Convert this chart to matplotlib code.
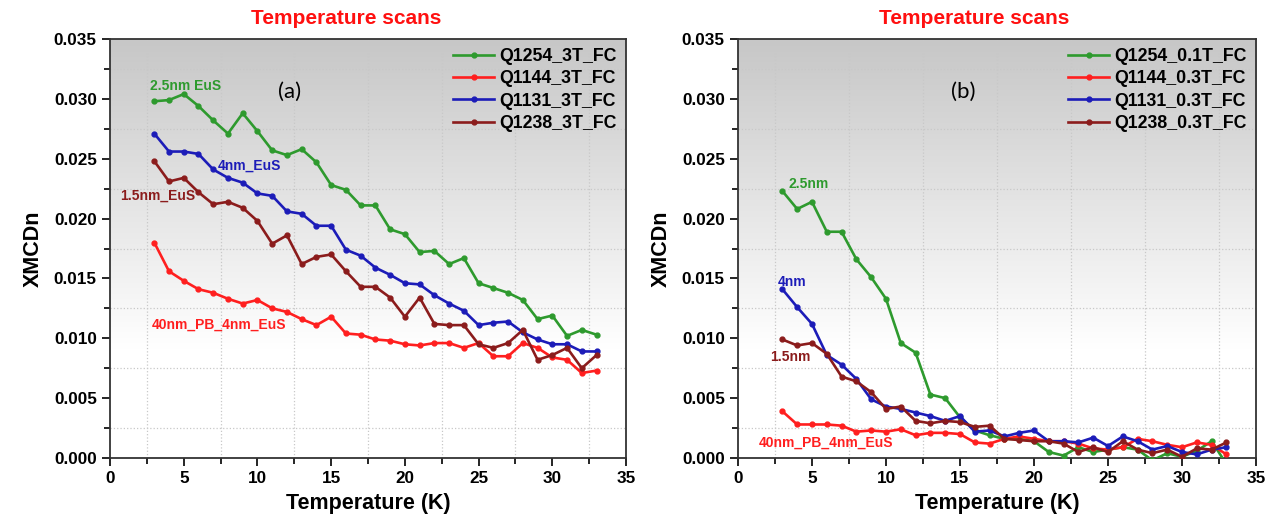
import matplotlib.pyplot as plt
import numpy as np
from matplotlib.ticker import MultipleLocator

plt.rcParams['font.family'] = ['Liberation Sans', 'DejaVu Sans']

temps = list(range(3, 34))

# panel (a): 3T field cooled
q1254_3t = [0.0298, 0.0299, 0.0304, 0.0294, 0.0282, 0.0271, 0.0288, 0.0273, 0.0257, 0.0253,
            0.0258, 0.0247, 0.0228, 0.0224, 0.0211, 0.0211, 0.0191, 0.0187, 0.0172, 0.0173,
            0.0162, 0.0167, 0.0146, 0.0142, 0.0138, 0.0132, 0.0116, 0.0119, 0.0102, 0.0107, 0.0103]
q1144_3t = [0.0180, 0.0156, 0.0148, 0.0141, 0.0138, 0.0133, 0.0129, 0.0132, 0.0125, 0.0122,
            0.0116, 0.0111, 0.0118, 0.0104, 0.0103, 0.0099, 0.0098, 0.0095, 0.0094, 0.0096,
            0.0096, 0.0092, 0.0096, 0.0085, 0.0085, 0.0096, 0.0092, 0.0084, 0.0082, 0.0071, 0.0073]
q1131_3t = [0.0271, 0.0256, 0.0256, 0.0254, 0.0241, 0.0234, 0.0230, 0.0221, 0.0219, 0.0206,
            0.0204, 0.0194, 0.0194, 0.0174, 0.0169, 0.0159, 0.0153, 0.0146, 0.0145, 0.0136,
            0.0129, 0.0123, 0.0111, 0.0113, 0.0114, 0.0105, 0.0099, 0.0095, 0.0095, 0.0089, 0.0089]
q1238_3t = [0.0248, 0.0231, 0.0234, 0.0222, 0.0212, 0.0214, 0.0209, 0.0198, 0.0179, 0.0186,
            0.0162, 0.0168, 0.0170, 0.0156, 0.0143, 0.0143, 0.0134, 0.0118, 0.0134, 0.0112,
            0.0111, 0.0111, 0.0095, 0.0092, 0.0096, 0.0107, 0.0082, 0.0086, 0.0092, 0.0075, 0.0086]

# panel (b): low field cooled
q1254_01t = [0.0223, 0.0208, 0.0214, 0.0189, 0.0189, 0.0166, 0.0151, 0.0133, 0.0096, 0.0088,
             0.0053, 0.0050, 0.0034, 0.0023, 0.0019, 0.0016, 0.0016, 0.0014, 0.0005, 0.0002,
             0.0009, 0.0005, 0.0007, 0.0009, 0.0007, -0.0002, 0.0004, 0.0001, 0.0006, 0.0014, -0.0005]
q1144_03t = [0.0039, 0.0028, 0.0028, 0.0028, 0.0027, 0.0022, 0.0023, 0.0022, 0.0024, 0.0019,
             0.0021, 0.0021, 0.0020, 0.0013, 0.0012, 0.0016, 0.0018, 0.0016, 0.0014, 0.0014,
             0.0012, 0.0008, 0.0007, 0.0009, 0.0016, 0.0014, 0.0011, 0.0009, 0.0013, 0.0011, 0.0003]
q1131_03t = [0.0141, 0.0126, 0.0112, 0.0086, 0.0078, 0.0066, 0.0049, 0.0043, 0.0041, 0.0038,
             0.0035, 0.0031, 0.0035, 0.0022, 0.0023, 0.0018, 0.0021, 0.0023, 0.0014, 0.0014,
             0.0013, 0.0017, 0.0010, 0.0018, 0.0014, 0.0007, 0.0010, 0.0005, 0.0003, 0.0007, 0.0009]
q1238_03t = [0.0099, 0.0094, 0.0096, 0.0087, 0.0068, 0.0064, 0.0055, 0.0041, 0.0043, 0.0031,
             0.0029, 0.0031, 0.0030, 0.0026, 0.0027, 0.0016, 0.0015, 0.0014, 0.0014, 0.0012,
             0.0005, 0.0009, 0.0005, 0.0014, 0.0007, 0.0004, 0.0007, 0.0001, 0.0008, 0.0007, 0.0013]

GREEN = '#2e9a2e'
RED = '#ff1f1f'
BLUE = '#1c1cb8'
DARKRED = '#8b1c1c'


def setup_axes(ax):
    # grey-to-white background gradient
    grad = np.linspace(0, 1, 256).reshape(-1, 1)
    shade = np.clip(0.78 + 0.22 * grad * 1.35, 0, 1)
    ax.imshow(np.dstack([shade, shade, shade]), extent=[0, 1, 0, 1], transform=ax.transAxes,
              aspect='auto', zorder=0, origin='upper')
    ax.set_xlim(0, 35)
    ax.set_ylim(0, 0.035)
    ax.xaxis.set_major_locator(MultipleLocator(5))
    ax.xaxis.set_minor_locator(MultipleLocator(2.5))
    ax.yaxis.set_major_locator(MultipleLocator(0.005))
    ax.yaxis.set_minor_locator(MultipleLocator(0.0025))
    ax.yaxis.set_major_formatter(plt.FormatStrFormatter('%.3f'))
    ax.grid(which='minor', linestyle=':', color='#c8c8c8', linewidth=0.9)
    ax.tick_params(which='major', direction='out', length=6, width=1.2, labelsize=12.3)
    ax.tick_params(which='minor', direction='out', length=4, width=1.2)
    for lab in ax.get_xticklabels() + ax.get_yticklabels():
        lab.set_fontweight('bold')
    for sp in ax.spines.values():
        sp.set_color('#333333')
        sp.set_linewidth(1.3)
    ax.set_xlabel('Temperature (K)', fontsize=15.5, fontweight='bold', labelpad=5)
    ax.set_ylabel('XMCDn', fontsize=15.5, fontweight='bold', labelpad=7)


def plot_series(ax, series):
    for vals, color, label in series:
        ax.plot(temps, vals, color=color, marker='o', markersize=3.5, linewidth=1.9,
                label=label, zorder=3)
    ax.legend(loc='upper right', frameon=False, prop={'weight': 'bold', 'size': 12.8},
              handlelength=2.3, handletextpad=0.3, labelspacing=0.3,
              borderaxespad=0.1)


fig = plt.figure(figsize=(12.75, 5.23), dpi=100)
ax1 = fig.add_axes([0.0863, 0.1243, 0.4047, 0.8011])
ax2 = fig.add_axes([0.5788, 0.1243, 0.4063, 0.8011])

setup_axes(ax1)
plot_series(ax1, [(q1254_3t, GREEN, 'Q1254_3T_FC'), (q1144_3t, RED, 'Q1144_3T_FC'),
                  (q1131_3t, BLUE, 'Q1131_3T_FC'), (q1238_3t, DARKRED, 'Q1238_3T_FC')])
ann = dict(fontsize=10, fontweight='bold', ha='left', va='center', zorder=4)
ax1.text(2.7, 0.0311, '2.5nm EuS', color=GREEN, **ann)
ax1.text(7.3, 0.0244, '4nm_EuS', color=BLUE, **ann)
ax1.text(0.7, 0.0219, '1.5nm_EuS', color=DARKRED, **ann)
ax1.text(2.85, 0.0111, '40nm_PB_4nm_EuS', color=RED, **ann)
ax1.text(12.2, 0.0306, '(a)', fontsize=16, family='Lato', ha='center', va='center')

setup_axes(ax2)
plot_series(ax2, [(q1254_01t, GREEN, 'Q1254_0.1T_FC'), (q1144_03t, RED, 'Q1144_0.3T_FC'),
                  (q1131_03t, BLUE, 'Q1131_0.3T_FC'), (q1238_03t, DARKRED, 'Q1238_0.3T_FC')])
ax2.text(3.4, 0.0229, '2.5nm', color=GREEN, **ann)
ax2.text(2.7, 0.0147, '4nm', color=BLUE, **ann)
ax2.text(2.2, 0.0084, '1.5nm', color=DARKRED, **ann)
ax2.text(1.4, 0.0013, '40nm_PB_4nm_EuS', color=RED, **ann)
ax2.text(15.2, 0.0306, '(b)', fontsize=16, family='Lato', ha='center', va='center')

fig.text(346 / 1275, 1 - 18 / 523, 'Temperature scans', color='#ff1010', fontsize=15,
         fontweight='bold', ha='center', va='center')
fig.text(974 / 1275, 1 - 18 / 523, 'Temperature scans', color='#ff1010', fontsize=15,
         fontweight='bold', ha='center', va='center')

fig.savefig('out.png', dpi=100)
